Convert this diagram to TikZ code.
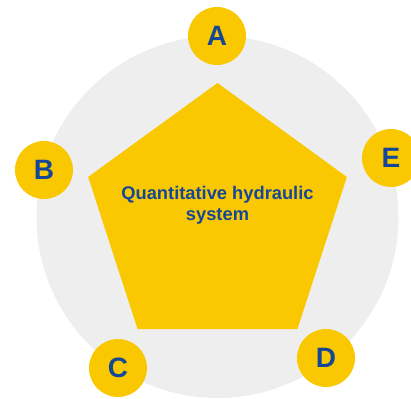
\documentclass[tikz,border=0pt]{standalone}
\usepackage{fontspec}
\setmainfont{Liberation Sans}
\usetikzlibrary{shapes.geometric}
\definecolor{gelb}{RGB}{250,200,0}
\definecolor{hellgrau}{RGB}{238,238,238}
\definecolor{dunkelblau}{RGB}{20,72,150}
\tikzset{kreis/.style={circle, fill=gelb, minimum size=58pt, inner sep=0pt,
           font=\fontsize{28}{28}\selectfont\bfseries, text=dunkelblau}}
\begin{document}
\begin{tikzpicture}[x=1pt,y=-1pt]
\useasboundingbox (0,0) rectangle (411,398);
\clip (0,0) rectangle (411,398);
% Der Hintergrund:
\fill[hellgrau] (217.5,217) circle[radius=181pt];
\node[regular polygon, regular polygon sides=5, minimum size=272pt,
      inner sep=0pt, outer sep=0pt, fill=gelb] (fuenfeck) at (217.5,219) {};
\node[align=center, text=dunkelblau, font=\fontsize{18.3}{21}\selectfont\bfseries]
  (titel) at (217.5,205) {Quantitative hydraulic\\system};
% Die Kreise:
\foreach \x/\y/\buchstabe in {217/36/A,44/170/B,118/368/C,326/358/D,391/158/E}
  \node[kreis] (\buchstabe) at (\x,\y) {\buchstabe};
\end{tikzpicture}
\end{document}
